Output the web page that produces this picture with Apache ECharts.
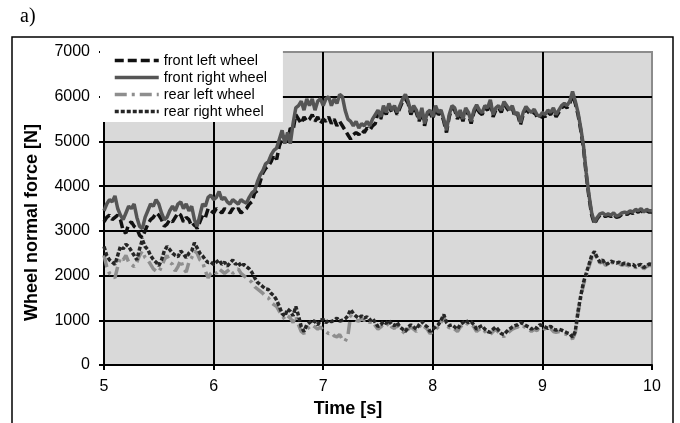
<!DOCTYPE html>
<html>
<head>
<meta charset="utf-8">
<script src="https://cdn.jsdelivr.net/npm/echarts@6/dist/echarts.min.js"></script>
<style>
html,body{margin:0;padding:0;background:#fff;}
#chart{width:680px;height:423px;}
</style>
</head>
<body>
<div id="chart"></div>
<script>
// Sampling of the time axis (s)
const tStart = 5;
const tStep = 0.025;

const seriesNames = ['front left wheel', 'front right wheel', 'rear left wheel', 'rear right wheel'];

const frontRight = [
3450,3600,3700,3650,3780,3500,3350,3250,3400,3550,
3500,3600,3300,3100,3050,3300,3450,3600,3550,3700,
3600,3400,3250,3300,3450,3550,3450,3600,3650,3500,
3600,3450,3550,3250,3100,3350,3600,3550,3750,3800,
3700,3750,3880,3700,3750,3650,3600,3700,3650,3600,
3700,3650,3620,3750,3850,3900,4100,4250,4350,4500,
4550,4700,4800,4850,5050,5250,4950,5200,4950,5400,
5750,5800,5900,5700,5950,5800,5950,5700,5900,5950,
5800,5950,6000,5800,5950,5850,6050,6000,5700,5500,
5450,5350,5450,5300,5400,5350,5450,5350,5500,5600,
5700,5550,5800,5650,5850,5700,5800,5650,5800,5950,
6050,5900,5650,5800,5700,5500,5750,5400,5650,5700,
5550,5800,5650,5700,5500,5250,5600,5800,5750,5550,
5700,5500,5750,5650,5450,5700,5820,5700,5640,5800,
5750,5930,5600,5750,5800,5700,5890,5800,5710,5800,
5600,5650,5420,5650,5780,5700,5650,5720,5600,5560,
5650,5600,5700,5650,5750,5600,5700,5800,5850,5800,
5900,6120,5900,5650,5300,4900,4300,3800,3400,3190,
3300,3380,3400,3350,3380,3350,3400,3330,3350,3400,
3420,3400,3450,3420,3480,3450,3500,3420,3480,3450,
3450];

const frontLeft = [
3200,3300,3350,3250,3300,3350,3250,3000,2950,3150,
3200,3100,3050,2900,2850,3000,3150,3250,3300,3400,
3350,3250,3100,3150,3250,3200,3300,3400,3350,3200,
3300,3250,3100,3150,3050,3200,3350,3300,3500,3450,
3400,3500,3450,3400,3500,3450,3400,3500,3450,3500,
3400,3450,3500,3600,3650,3850,3900,4100,4300,4400,
4450,4550,4700,4600,4900,5050,5100,5000,5300,5250,
5600,5500,5400,5550,5450,5500,5600,5450,5550,5400,
5500,5450,5550,5400,5500,5350,5450,5350,5250,5150,
5050,5150,5200,5150,5250,5200,5300,5250,5350,5400,
5650,5500,5750,5600,5800,5650,5750,5600,5750,5900,
5950,5850,5600,5750,5650,5450,5700,5350,5600,5650,
5500,5750,5600,5650,5450,5200,5550,5750,5700,5500,
5650,5450,5700,5600,5400,5650,5770,5650,5600,5750,
5700,5880,5550,5700,5750,5650,5840,5750,5660,5750,
5550,5600,5370,5600,5730,5650,5600,5670,5550,5510,
5600,5550,5650,5600,5700,5550,5650,5750,5800,5750,
5850,6050,5850,5600,5250,4850,4250,3750,3350,3150,
3270,3350,3370,3320,3350,3320,3370,3300,3320,3370,
3390,3370,3420,3390,3450,3420,3470,3390,3450,3420,
3420];

const rearRight = [
2650,2450,2350,2300,2250,2450,2650,2600,2700,2650,
2550,2450,2350,2600,2800,2650,2580,2450,2360,2300,
2220,2350,2550,2650,2580,2500,2450,2420,2550,2480,
2400,2500,2550,2730,2620,2500,2440,2350,2290,2300,
2250,2300,2350,2250,2300,2210,2280,2350,2250,2300,
2200,2250,2200,2150,2070,1950,1850,1800,1750,1700,
1690,1600,1550,1450,1310,1150,1090,1250,1200,1100,
1310,1100,850,750,900,950,1000,970,900,1000,
1020,950,1000,970,1000,1050,980,1000,1030,1100,
1240,1150,1090,1050,1100,1050,1080,1000,1040,950,
860,900,970,930,1000,900,880,950,850,800,
750,850,900,850,800,900,970,900,850,750,
800,850,900,1000,1130,950,880,900,850,800,
900,950,1000,950,970,900,800,850,880,800,
750,730,800,850,780,700,680,750,800,850,
880,900,950,920,880,850,800,850,820,900,
880,850,820,870,800,780,800,780,750,720,
700,620,750,1200,1550,1850,2050,2250,2450,2540,
2400,2300,2350,2250,2270,2320,2300,2280,2300,2250,
2280,2260,2240,2250,2200,2230,2250,2180,2220,2260,
2250];

const rearLeft = [
2450,2200,2050,2000,1950,2200,2400,2350,2450,2300,
2250,2200,2300,2450,2550,2400,2350,2250,2150,2100,
2080,2200,2350,2450,2300,2250,2100,2200,2350,2150,
2080,2300,2400,2550,2500,2350,2300,2100,1950,2050,
2100,2050,2150,2100,2050,2100,2150,2050,2100,2150,
2050,2000,1950,1900,1850,1750,1700,1650,1600,1530,
1500,1400,1350,1310,1200,1100,1020,1100,1050,950,
1100,900,750,700,800,850,900,850,800,850,
780,750,700,720,650,630,680,570,530,650,
1100,1050,1000,980,1050,1000,1020,950,980,880,
800,850,920,880,950,850,820,900,800,750,
700,800,850,800,750,850,920,850,800,700,
750,800,850,950,1080,900,830,850,800,750,
850,900,950,900,920,850,750,800,830,750,
700,680,750,800,730,650,640,700,750,800,
830,850,900,870,830,800,750,800,770,850,
830,800,770,820,750,730,750,730,700,680,
650,580,720,1150,1500,1800,2000,2200,2400,2500,
2380,2280,2320,2230,2250,2300,2280,2250,2270,2230,
2250,2230,2210,2220,2180,2200,2220,2150,2200,2230,
2220];

const xTicks = [5, 6, 7, 8, 9, 10];
const yTicks = [0, 1000, 2000, 3000, 4000, 5000, 6000, 7000];

function pairs(vals) {
  return vals.map((v, i) => [+(tStart + i * tStep).toFixed(3), v]);
}

const chart = echarts.init(document.getElementById('chart'), null, {renderer: 'canvas'});
const font = "'Liberation Sans', Arial, sans-serif";

chart.setOption({
  animation: false,
  backgroundColor: '#ffffff',
  title: {
    text: 'a)',
    left: 15, top: 2,
    textStyle: {fontFamily: "'Liberation Serif', 'Times New Roman', serif", fontSize: 20, fontWeight: 'normal', color: '#000'}
  },
  graphic: [{
    type: 'rect', z: -1, silent: true,
    shape: {x: 12, y: 37, width: 661, height: 420},
    style: {fill: 'none', stroke: '#000', lineWidth: 1.5}
  }],
  grid: {
    left: 104, right: 28, top: 52, bottom: 58,
    show: true, backgroundColor: '#d9d9d9', borderColor: '#8c8c8c', borderWidth: 2
  },
  legend: {
    orient: 'vertical', left: 100, top: 50,
    backgroundColor: '#ffffff',
    padding: [3, 16, 3, 13],
    itemGap: 2, itemWidth: 44, itemHeight: 14, itemTextGap: 6,
    itemStyle: {opacity: 0, color: 'rgba(0,0,0,0)', borderWidth: 0},
    lineStyle: {width: 3.5},
    data: seriesNames,
    textStyle: {fontFamily: font, fontSize: 14.5, color: '#000'}
  },
  xAxis: {
    type: 'value', min: xTicks[0], max: xTicks[xTicks.length - 1], interval: 1,
    name: 'Time [s]', nameLocation: 'middle', nameGap: 33,
    nameTextStyle: {fontFamily: font, fontSize: 18, fontWeight: 'bold', color: '#000', padding: [0, 60, 0, 0]},
    axisLine: {show: true, lineStyle: {color: '#000', width: 2}},
    axisTick: {show: true, length: 5, lineStyle: {color: '#000', width: 2}},
    axisLabel: {fontFamily: font, fontSize: 16, color: '#000', margin: 14},
    splitLine: {show: true, showMinLine: false, showMaxLine: false, lineStyle: {color: '#000', width: 2}}
  },
  yAxis: {
    type: 'value', min: yTicks[0], max: yTicks[yTicks.length - 1], interval: 1000,
    name: 'Wheel normal force [N]', nameLocation: 'middle', nameGap: 63,
    nameTextStyle: {fontFamily: font, fontSize: 18, fontWeight: 'bold', color: '#000', padding: [0, 28, 0, 0]},
    axisLine: {show: true, lineStyle: {color: '#000', width: 2}},
    axisTick: {show: true, length: 5, lineStyle: {color: '#000', width: 2}},
    axisLabel: {fontFamily: font, fontSize: 16, color: '#000', margin: 14, formatter: v => String(v)},
    splitLine: {show: true, showMinLine: false, showMaxLine: false, lineStyle: {color: '#000', width: 2}}
  },
  series: [
    {name: seriesNames[0], type: 'line', data: pairs(frontLeft), symbol: 'none', z: 2,
     lineStyle: {color: '#111', width: 3.5, type: [9, 4]}, itemStyle: {color: '#111'}},
    {name: seriesNames[1], type: 'line', data: pairs(frontRight), symbol: 'none', z: 3,
     lineStyle: {color: '#555', width: 3.5, type: 'solid'}, itemStyle: {color: '#555'}},
    {name: seriesNames[2], type: 'line', data: pairs(rearLeft), symbol: 'none', z: 4,
     lineStyle: {color: '#8e8e8e', width: 3.5, type: [12, 5, 3, 5]}, itemStyle: {color: '#8e8e8e'}},
    {name: seriesNames[3], type: 'line', data: pairs(rearRight), symbol: 'none', z: 5,
     lineStyle: {color: '#262626', width: 3.5, type: [4, 2]}, itemStyle: {color: '#262626'}}
  ]
});
</script>
</body>
</html>
